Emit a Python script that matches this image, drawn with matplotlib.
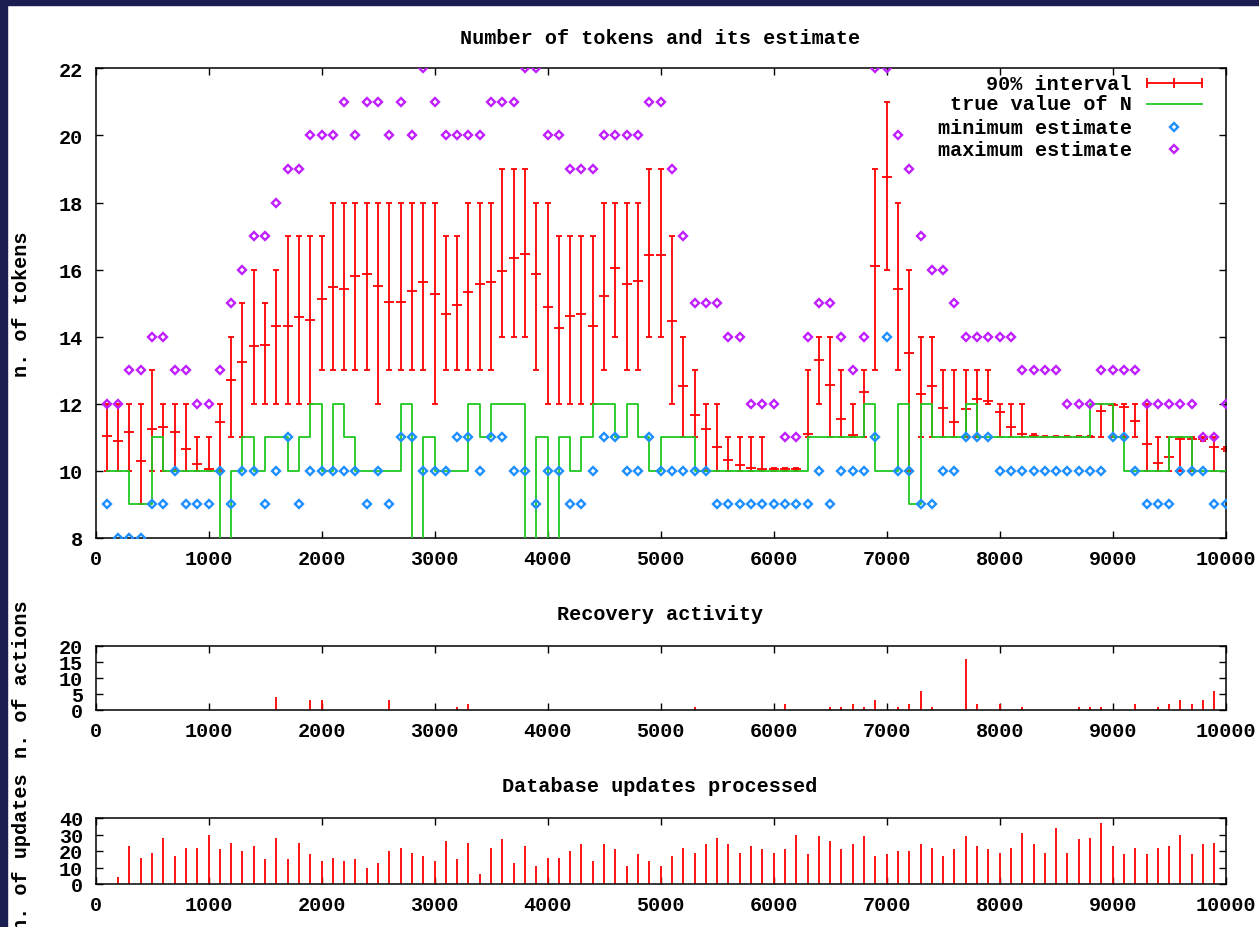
import numpy as np
import matplotlib
matplotlib.use("Agg")
import matplotlib.pyplot as plt
from matplotlib.patches import Rectangle

# sample times (every 100 updates)
t = np.arange(100, 10001, 100)

# estimates
min_est = [9, 8, 8, 8, 9, 9, 10, 9, 9, 9,
           10, 9, 10, 10, 9, 10, 11, 9, 10, 10,
           10, 10, 10, 9, 10, 9, 11, 11, 10, 10,
           10, 11, 11, 10, 11, 11, 10, 10, 9, 10,
           10, 9, 9, 10, 11, 11, 10, 10, 11, 10,
           10, 10, 10, 10, 9, 9, 9, 9, 9, 9,
           9, 9, 9, 10, 9, 10, 10, 10, 11, 14,
           10, 10, 9, 9, 10, 10, 11, 11, 11, 10,
           10, 10, 10, 10, 10, 10, 10, 10, 10, 11,
           11, 10, 9, 9, 9, 10, 10, 10, 9, 9]
max_est = [12, 12, 13, 13, 14, 14, 13, 13, 12, 12,
           13, 15, 16, 17, 17, 18, 19, 19, 20, 20,
           20, 21, 20, 21, 21, 20, 21, 20, 22, 21,
           20, 20, 20, 20, 21, 21, 21, 22, 22, 20,
           20, 19, 19, 19, 20, 20, 20, 20, 21, 21,
           19, 17, 15, 15, 15, 14, 14, 12, 12, 12,
           11, 11, 14, 15, 15, 14, 13, 14, 22, 22,
           20, 19, 17, 16, 16, 15, 14, 14, 14, 14,
           14, 13, 13, 13, 13, 12, 12, 12, 13, 13,
           13, 13, 12, 12, 12, 12, 12, 11, 11, 12]
est_mean = [11.05, 10.9, 11.15, 10.3, 11.25, 11.3, 11.15, 10.65, 10.2, 10.05,
            11.45, 12.72, 13.26, 13.71, 13.75, 14.33, 14.33, 14.6, 14.49, 15.12,
            15.47, 15.42, 15.82, 15.87, 15.52, 15.03, 15.03, 15.37, 15.62, 15.27,
            14.68, 14.93, 15.32, 15.56, 15.62, 15.97, 16.35, 16.47, 15.87, 14.88,
            14.25, 14.63, 14.68, 14.33, 15.22, 16.05, 15.56, 15.67, 16.45, 16.45,
            14.48, 12.52, 11.68, 11.25, 10.7, 10.33, 10.17, 10.1, 10.05, 10.05,
            10.05, 10.05, 11.1, 13.3, 12.57, 11.55, 11.08, 12.34, 16.12, 18.77,
            15.42, 13.5, 12.29, 12.54, 11.88, 11.45, 11.85, 12.13, 12.07, 11.77,
            11.3, 11.1, 11.05, 11.0, 11.0, 11.0, 11.0, 11.0, 11.8, 11.95,
            11.9, 11.5, 10.8, 10.25, 10.4, 10.95, 10.95, 10.95, 10.7, 10.65]
est_low = [10, 10, 10, 9, 10, 10, 10, 10, 10, 10,
           10, 11, 11, 12, 12, 12, 12, 12, 12, 13,
           13, 13, 13, 13, 12, 13, 13, 13, 13, 12,
           13, 13, 13, 13, 13, 14, 14, 14, 13, 12,
           12, 12, 12, 12, 13, 14, 13, 13, 14, 14,
           12, 11, 11, 10, 10, 10, 10, 10, 10, 10,
           10, 10, 11, 12, 11, 11, 11, 11, 13, 16,
           13, 10, 11, 11, 11, 11, 11, 11, 12, 11,
           11, 11, 11, 11, 11, 11, 11, 11, 11, 11,
           11, 11, 10, 10, 10, 10, 10, 10.9, 10, 10.6]
est_high = [12, 12, 12, 12, 13, 12, 12, 12, 11, 11,
            12, 14, 15, 16, 15, 16, 17, 17, 17, 17,
            18, 18, 18, 18, 18, 18, 18, 18, 18, 18,
            17, 17, 18, 18, 18, 19, 19, 19, 18, 18,
            17, 17, 17, 17, 18, 18, 18, 18, 19, 19,
            17, 14, 13, 12, 12, 11, 11, 11, 11, 10.1,
            10.1, 10.1, 13, 14, 14, 13, 12, 13, 19, 21,
            18, 16, 14, 14, 13, 13, 13, 13, 13, 12,
            12, 12, 11.1, 11.05, 11.05, 11.05, 11.05, 11.05, 12, 12,
            12, 12, 12, 11, 11, 11, 11, 11, 11, 10.7]
true_n = [10, 10, 9, 9, 11, 10, 10, 10, 10, 10,
          7, 10, 11, 10, 11, 11, 10, 11, 12, 10,
          12, 11, 10, 10, 10, 10, 12, 7, 11, 10,
          10, 10, 12, 11, 12, 12, 12, 7, 11, 7,
          11, 10, 11, 12, 12, 11, 12, 11, 10, 11,
          11, 11, 10, 10, 10, 10, 10, 10, 10, 10,
          10, 10, 11, 11, 11, 11, 11, 12, 10, 10,
          12, 9, 12, 11, 11, 11, 12, 11, 11, 11,
          11, 11, 11, 11, 11, 11, 11, 12, 12, 11,
          10, 10, 10, 10, 11, 11, 10, 10, 10, 10]

# recovery actions
rec_t = [1600, 1900, 2000, 2600, 3200, 3300, 5300, 6100, 6500, 6600, 6700,
         6800, 6900, 7100, 7200, 7300, 7400, 7700, 7800, 8000, 8200, 8700,
         8800, 8900, 9200, 9400, 9500, 9600, 9700, 9800, 9900]
rec_n = [4, 3, 3, 3, 1, 2, 1, 2, 1, 1, 2,
         1, 3, 1, 2, 6, 1, 16, 2, 2, 1, 1,
         1, 1, 2, 1, 2, 3, 2, 3, 6]

# database updates per interval
upd_t = np.arange(200, 10000, 100)
upd_n = [4, 23, 16, 19, 28, 17, 22, 22, 30, 21, 25, 20, 23, 15, 28, 15, 25, 18,
         14, 16, 14, 15, 10, 13, 20, 22, 19, 17, 14, 26, 15, 25, 6, 22, 27, 13,
         23, 11, 16, 16, 20, 24, 14, 24, 21, 11, 18, 14, 11, 17, 22, 19, 24, 28,
         24, 19, 23, 21, 19, 21, 30, 18, 29, 26, 21, 24, 29, 17, 18, 20, 20, 24,
         22, 17, 21, 29, 23, 21, 19, 22, 31, 24, 19, 34, 19, 27, 28, 37, 23, 18,
         22, 18, 22, 23, 30, 18, 24, 25]

RED = "#ff0000"
GREEN = "#20c820"
BLUE = "#1e8fff"
PURPLE = "#c020ff"
NAVY = "#1a1e50"
W, H = 1259, 928

plt.rcParams["font.family"] = ["Liberation Mono", "DejaVu Sans Mono"]
plt.rcParams["font.weight"] = "bold"
plt.rcParams["font.size"] = 14.5

fig = plt.figure(figsize=(W / 100, H / 100), dpi=100)
fig.patches.append(Rectangle((0, 0), 7 / W, 1, transform=fig.transFigure,
                             color=NAVY, zorder=10))
fig.patches.append(Rectangle((0, 1 - 6 / H), 1, 6 / H, transform=fig.transFigure,
                             color=NAVY, zorder=10))

ax = fig.add_axes([95.5 / W, 1 - 539 / H, 1130.2 / W, 469.7 / H])
ax2 = fig.add_axes([95.5 / W, 1 - 711 / H, 1130.2 / W, 64 / H])
ax3 = fig.add_axes([95.5 / W, 1 - 885 / H, 1130.2 / W, 66 / H])


def style(a):
    a.set_xlim(0, 10000)
    a.set_xticks(np.arange(0, 10001, 1000))
    a.tick_params(direction="in", length=5, width=1, top=True, right=True,
                  labelsize=14.5)
    a.tick_params(axis="x", pad=8)
    a.tick_params(axis="y", pad=9)
    for s in a.spines.values():
        s.set_linewidth(1.1)


# main chart
mean = np.array(est_mean)
yerr = [mean - np.array(est_low), np.array(est_high) - mean]
ax.errorbar(t, mean, yerr=yerr, fmt="none", ecolor=RED, elinewidth=1.3,
            capsize=2.3, capthick=1.3, zorder=2)
ax.plot(t, mean, "_", color=RED, ms=7.5, mew=1.3, zorder=2)
ax.step(t, true_n, where="post", color=GREEN, lw=1.3, zorder=3)
ax.plot(t, min_est, "D", ms=4.2, mfc="none", mec=BLUE, mew=1.7, zorder=4)
ax.plot(t, max_est, "D", ms=4.2, mfc="none", mec=PURPLE, mew=1.7, zorder=4)
ax.set_ylim(8, 22)
ax.set_yticks(range(8, 23, 2))
style(ax)

# legend drawn gnuplot style: right aligned labels, samples to the right
lx_txt, lx0, lx1 = 0.9168, 0.930, 0.9788
lxm = (lx0 + lx1) / 2
rows = [0.9687, 0.924, 0.8744, 0.828]
labels = ["90% interval", "true value of N", "minimum estimate", "maximum estimate"]
for yy, lab in zip(rows, labels):
    ax.text(lx_txt, yy, lab, transform=ax.transAxes, ha="right", va="center",
            fontsize=14.5, fontweight="bold")
kw = dict(transform=ax.transAxes, clip_on=False)
ax.plot([lx0, lx1], [rows[0]] * 2, color=RED, lw=1.3, **kw)
ax.plot([lx0, lxm, lx1], [rows[0]] * 3, "|", color=RED, ms=7, mew=1.3, **kw)
ax.plot([lx0, lx1], [rows[1]] * 2, color=GREEN, lw=1.3, **kw)
ax.plot([lxm], [rows[2]], "D", ms=4.2, mfc="none", mec=BLUE, mew=1.7, **kw)
ax.plot([lxm], [rows[3]], "D", ms=4.2, mfc="none", mec=PURPLE, mew=1.7, **kw)

# recovery activity
ax2.vlines(rec_t, 0, rec_n, color=RED, lw=1.3)
ax2.set_ylim(0, 20)
ax2.set_yticks(range(0, 21, 5))
style(ax2)

# database updates
ax3.vlines(upd_t, 0, upd_n, color=RED, lw=1.3)
ax3.set_ylim(0, 40)
ax3.set_yticks(range(0, 41, 10))
style(ax3)

fig.text(660 / W, 1 - 38 / H, "Number of tokens and its estimate",
         ha="center", va="center")
fig.text(660 / W, 1 - 614 / H, "Recovery activity", ha="center", va="center")
fig.text(660 / W, 1 - 787 / H, "Database updates processed",
         ha="center", va="center")

fig.text(22 / W, 1 - 304 / H, "n. of tokens", rotation=90, ha="center", va="center")
fig.text(22 / W, 1 - 679 / H, "n. of actions", rotation=90, ha="center", va="center")
fig.text(22 / W, 1 - 852 / H, "n. of updates", rotation=90, ha="center", va="center")

fig.savefig("out.png", dpi=100)
